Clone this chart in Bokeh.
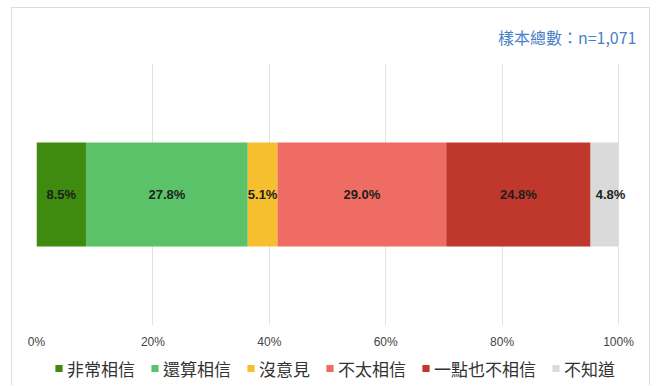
from bokeh.plotting import figure
from bokeh.models import ColumnDataSource, Legend, LegendItem, Title, FixedTicker, Range1d
from bokeh.layouts import column
from bokeh.core.properties import value
from bokeh.embed import file_html
from bokeh.resources import INLINE

categories = ["非常相信", "還算相信", "沒意見", "不太相信", "一點也不相信", "不知道"]
values = [8.5, 27.8, 5.1, 29.0, 24.8, 4.8]
colors = ["#3f8b10", "#5cc26a", "#f6bf30", "#ee6c63", "#c0372b", "#dadada"]
tick_values = [0, 20, 40, 60, 80, 100]
tick_labels = ["0%", "20%", "40%", "60%", "80%", "100%"]
note = "樣本總數：n=1,071"

lefts, rights = [], []
acc = 0.0
for v in values:
    lefts.append(acc)
    acc += v
    rights.append(acc)
mids = [(l + r) / 2 for l, r in zip(lefts, rights)]
labels = [f"{v:.1f}%" for v in values]

src = ColumnDataSource(dict(cat=categories, left=lefts, right=rights,
                            y=[0.5] * len(values), color=colors))
lab_in = ColumnDataSource(dict(x=mids[:-1], y=[0.5] * 5, lab=labels[:-1]))
lab_out = ColumnDataSource(dict(x=mids[-1:], y=[0.5], lab=labels[-1:]))

# 100% spans 582px; extra room on the right so the outside label is not clipped
px_per_100 = 582
frame_w = 604
x_end = 100 * frame_w / px_per_100
total_w = 24 + frame_w + 9

p = figure(frame_width=frame_w, frame_height=262, output_backend="svg", toolbar_location=None,
           x_range=Range1d(0, x_end), y_range=Range1d(0, 1),
           min_border_left=24, min_border_right=9, min_border_top=51, min_border_bottom=0)
p.outline_line_color = None

r = p.hbar(y="y", left="left", right="right", height=0.397, fill_color="color", source=src, line_color=None)
for s, xo in ((lab_in, 0), (lab_out, 6)):
    p.text(x="x", y="y", text="lab", x_offset=xo, source=s, text_align="center", text_baseline="middle",
           text_font=value("Liberation Sans"), text_font_style="bold", text_font_size="13px",
           text_color="#1e1e1e")

p.yaxis.visible = False
p.ygrid.visible = False
p.xaxis.ticker = FixedTicker(ticks=tick_values)
p.xaxis.major_label_overrides = {t: l for t, l in zip(tick_values, tick_labels)}
p.xaxis.axis_line_color = None
p.xaxis.major_tick_line_color = None
p.xaxis.minor_tick_line_color = None
p.xaxis.major_tick_out = 0
p.xaxis.major_tick_in = 0
p.xaxis.major_label_standoff = 9
p.xaxis.major_label_text_font = "Liberation Sans"
p.xaxis.major_label_text_font_size = "12px"
p.xaxis.major_label_text_color = "#444444"
p.xgrid.grid_line_color = "#e2e2e2"

t = Title(text=note, align="right", text_font="Noto Sans CJK TC", text_font_size="16px",
          text_font_style="normal", text_color="#4a80c8", offset=4, standoff=29)
p.add_layout(t, "above")

# legend strip: a second figure whose swatch renderer lies outside its visible range
lg = figure(width=total_w, height=34, output_backend="svg", toolbar_location=None,
            x_range=Range1d(0, 100), y_range=Range1d(10, 11),
            x_axis_location=None, y_axis_location=None,
            min_border_left=0, min_border_right=0, min_border_top=0, min_border_bottom=0)
lg.outline_line_color = None
lg.grid.visible = False
r2 = lg.hbar(y="y", left="left", right="right", height=0.397, fill_color="color", source=src, line_color=None)

items = [LegendItem(label=c, renderers=[r2], index=i) for i, c in enumerate(categories)]
legend = Legend(items=items, orientation="horizontal", location="left",
                glyph_width=9, glyph_height=9, label_standoff=4, spacing=15,
                label_text_font="Noto Sans CJK TC", label_text_font_size="17px",
                label_text_color="#333333", border_line_color=None, padding=0, margin=18,
                background_fill_alpha=0)
lg.add_layout(legend, "center")

layout = column(p, lg, spacing=0)
layout.styles = {"margin-left": "11px", "margin-top": "7px",
                 "border-left": "1px solid #dcdcdc", "border-top": "1px solid #dcdcdc",
                 "border-right": "1px solid #dcdcdc"}

open("out.html", "w").write(file_html(layout, INLINE))
